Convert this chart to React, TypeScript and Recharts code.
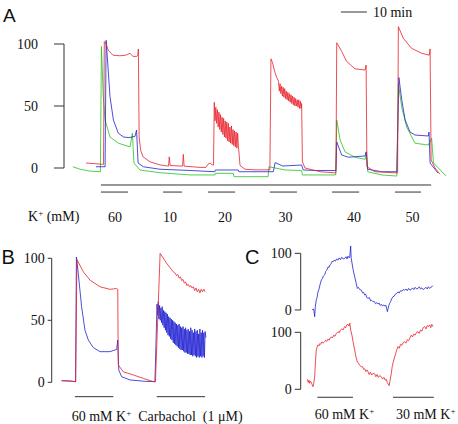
import React from 'react'
import { LineChart, Line, XAxis, YAxis, ReferenceLine } from 'recharts'

type Pt = [number, number]

const SERIF = '"Liberation Serif", "Times New Roman", serif'
const SANS = '"Liberation Sans", Arial, sans-serif'

const RED = '#e8202a'
const BLUE = '#2020d2'
const GREEN = '#22c422'
const INK = '#333'

// Panel A: normalised response (%), time in min
const RED_A: Pt[] = [
  [8.5, 4], [11.9, 3.5], [14.5, 3], [15.2, 3], [15.5, 102], [16.2, 100], [17.0, 95], [18.8, 91], [21.5, 90.5],
  [23.8, 91], [25.4, 92.5], [26.5, 90], [28.0, 90], [28.4, 91], [28.6, 96], [28.9, 25], [29.5, 14], [30.4, 9],
  [33.1, 5], [36.9, 2.5], [40.2, 1.5], [40.5, 9], [40.8, 2], [45.6, 1.5], [45.9, 11], [46.2, 1.5], [52.3, 0.5],
  [54.6, 0.5], [55.4, 3], [56.2, 4], [56.9, 2.5], [57.5, 2.5], [57.8, 53],
  [58.1, 38], [58.4, 49], [58.7, 36], [59.0, 47], [59.3, 33], [59.6, 45], [59.9, 31], [60.2, 43], [60.5, 29],
  [60.8, 41], [61.1, 27], [61.4, 40], [61.7, 25], [62.0, 38], [62.3, 24], [62.6, 37], [62.9, 22], [63.2, 36],
  [63.5, 21], [63.8, 33], [64.1, 20], [64.4, 34], [64.7, 19], [65.0, 31], [65.3, 18], [65.6, 30], [65.9, 17],
  [66.2, 29], [66.5, 16], [66.8, 28], [67.1, 17], [67.4, 10], [67.7, 2], [69.6, -1], [73.5, -1.5], [79.2, -1.5],
  [79.6, 88], [80.2, 85], [81.0, 78], [81.8, 73], [82.5, 70],
  [82.8, 62], [83.1, 68], [83.4, 60], [83.7, 66], [84.0, 58], [84.3, 65], [84.6, 57], [84.9, 64], [85.2, 56],
  [85.5, 62], [85.8, 55], [86.1, 61], [86.4, 54], [86.7, 60], [87.0, 53], [87.3, 59], [87.6, 52], [87.9, 58],
  [88.2, 51], [88.5, 57], [88.8, 50], [89.1, 56], [89.4, 50], [89.7, 55], [90.0, 49], [90.3, 55], [90.6, 48],
  [90.9, 54], [91.2, 48], [91.4, 52], [91.7, 5], [92.7, 0], [98.5, -3], [104.6, -4],
  [104.9, 101], [106.8, 94], [108.7, 86], [111.9, 80], [115.8, 79], [116.2, 83], [116.5, 1], [119.6, -3],
  [128.3, -4], [128.6, 114], [130.5, 104.6], [133.7, 96.5], [137.6, 92.5], [140.5, 91], [140.8, 96],
  [141.2, 6.5], [142.7, 0], [144.6, -5],
]

const BLUE_A: Pt[] = [
  [12.3, 1], [15.8, 1], [16.2, 103], [17.0, 79], [17.7, 57.5], [19.0, 38.7], [20.9, 28], [22.9, 25], [25.0, 24.5],
  [27.3, 25.5], [27.9, 30.6], [28.5, 4], [30.5, 1], [36.9, -1], [48.5, -2], [58.0, -3], [58.2, -1.6], [67.0, -1.6],
  [67.3, -3], [80.5, -3], [81.2, 4.3], [84.2, 1.6], [91.4, 2.4], [92.0, -1.6], [96.5, -2], [104.6, -2],
  [104.9, 21], [106.8, 10.5], [109.3, 8.7], [115.8, 9.7], [116.2, 13], [116.8, -1], [122.2, -3], [128.0, -3],
  [128.8, 73], [129.9, 55], [131.2, 38.7], [133.1, 29], [135.0, 26.6], [140.1, 25.8], [140.4, 29], [140.8, 4],
  [143.8, -4],
]

const GREEN_A: Pt[] = [
  [3.4, 1], [6.2, -1], [10.0, -2.5], [14.0, -3], [14.4, 98], [15.1, 57.5], [15.8, 38.7], [17.7, 25], [20.9, 20],
  [25.4, 17], [26.3, 28], [26.9, 4], [29.2, -1.6], [36.9, -3.8], [48.5, -5.6], [58.1, -5.6], [58.2, -4.3],
  [65.1, -4.3], [65.4, -7], [78.5, -7], [78.8, 1], [85.0, -1.6], [91.4, -2], [91.7, -5.6], [104.5, -5.6],
  [104.9, 38.7], [106.2, 22.6], [108.1, 13], [112.0, 8.6], [115.8, 7], [116.4, 13], [116.8, -3], [122.2, -5.6],
  [128.0, -6.5], [128.6, 68], [129.9, 49], [131.8, 33], [135.0, 20], [140.1, 18.5], [141.4, 24], [142.1, 4],
  [147.0, -6.5],
]

const K_CONC = ['60', '10', '20', '30', '40', '50']
const K_ON = [14.2, 38.1, 55.4, 79.2, 103.1, 127.3]
const K_OFF = [24.6, 45.4, 65.8, 89.6, 113.5, 137.3]
const K_LABEL_AT = [19.6, 40.8, 61.9, 85.2, 111.5, 134.0]

// Panel B
const BLUE_B: Pt[] = [
  [3.8, 1.3], [7.0, 1], [9.2, 0.5], [9.5, 101], [10.2, 88], [11.5, 61], [12.8, 42], [14.1, 34], [16.0, 28],
  [18.6, 24.7], [22.4, 24.7], [25.0, 26.6], [25.4, 34], [25.8, 9.9], [26.9, 4.5], [30.1, 1.9], [35.9, 0.8],
  [39.7, 0.5], [40.1, 30],
  [40.5, 63], [40.75, 54], [41.0, 65], [41.25, 51], [41.5, 62], [41.75, 50], [42.0, 60], [42.25, 48], [42.5, 61],
  [42.75, 46], [43.0, 58], [43.25, 44], [43.5, 57], [43.75, 42], [44.0, 56], [44.25, 40], [44.5, 55], [44.75, 38],
  [45.0, 53], [45.25, 37], [45.5, 52], [45.75, 35], [46.0, 51], [46.25, 34], [46.5, 50], [46.75, 32], [47.0, 49],
  [47.25, 31], [47.5, 48], [47.75, 30], [48.0, 47], [48.25, 29], [48.5, 46], [48.75, 28], [49.0, 47], [49.25, 27],
  [49.5, 45], [49.75, 26], [50.0, 44], [50.25, 26], [50.5, 45], [50.75, 25], [51.0, 43], [51.25, 24], [51.5, 44],
  [51.75, 24], [52.0, 42], [52.25, 23], [52.5, 43], [52.75, 23], [53.0, 41], [53.25, 22], [53.5, 44], [53.75, 22],
  [54.0, 42], [54.25, 21], [54.5, 40], [54.75, 22], [55.0, 43], [55.25, 21], [55.5, 41], [55.75, 20], [56.0, 42],
  [56.25, 21], [56.5, 39], [56.75, 20], [57.0, 43], [57.25, 21], [57.5, 40], [57.75, 20], [58.0, 42], [58.25, 21],
  [58.5, 40], [58.75, 20], [59.0, 41], [59.3, 36],
]

const RED_B: Pt[] = [
  [3.8, 1.3], [7.0, 1], [9.2, 0.5], [9.7, 99], [12.2, 89], [14.7, 82.5], [18.6, 77], [22.4, 75], [25.0, 75.6],
  [25.4, 75], [25.6, 14], [27.5, 8.5], [31.4, 5.9], [35.2, 3.2], [39.1, 0.5], [39.9, 0.5], [41.7, 104],
  [44.2, 96], [46.8, 89], [47.5, 88], [48.0, 86], [48.5, 87], [49.0, 84], [49.5, 85], [50.0, 82], [50.5, 83],
  [51.0, 80], [51.5, 81], [52.0, 78], [52.5, 79], [53.0, 77], [53.5, 78], [54.0, 76], [54.5, 77], [55.0, 74],
  [55.5, 76], [56.0, 73], [56.5, 75], [57.0, 72], [57.5, 75], [58.0, 73], [58.5, 75], [59.0, 73],
]

const B_ON = [8.9, 40.4]
const B_OFF = [23.7, 59.0]
const B_LABEL_AT = [7.7, 33.3]
const B_LABELS = ['60 mM K', 'Carbachol\u00a0\u00a0(1 \u03bcM)']
const B_SUPS = ['+', '']

// Panel C
const BLUE_C: Pt[] = [
  [4.47, 0], [4.8, 2], [5.12, -2], [5.37, -12], [5.6, 5], [6.01, 18], [6.3, 22], [6.65, 32], [7.0, 36], [7.4, 44],
  [7.94, 53], [8.3, 55], [8.7, 60], [9.22, 62], [9.6, 68], [10.0, 70], [10.5, 76], [10.9, 75], [11.3, 80],
  [11.78, 82], [12.1, 86], [12.42, 85], [12.9, 88], [13.3, 86], [13.8, 90], [14.35, 88], [14.8, 92], [15.3, 89],
  [15.8, 93], [16.3, 90], [16.91, 91], [17.4, 94], [17.8, 90], [18.19, 95], [18.6, 92], [18.83, 93], [19.0, 100],
  [19.22, 113], [19.4, 92], [19.73, 83], [20.2, 70], [20.76, 59], [21.3, 48], [21.78, 38], [22.2, 40], [22.7, 36],
  [23.32, 35], [23.8, 30], [24.2, 31], [24.6, 26.5], [25.0, 28], [25.4, 22], [25.88, 20.6], [26.4, 22], [26.9, 16],
  [27.3, 17], [27.8, 14.7], [28.3, 15], [28.8, 11], [29.3, 13], [29.73, 10.6], [30.2, 12], [30.6, 8], [31.0, 10],
  [31.5, 7], [32.0, 9], [32.3, 7], [32.8, 8], [33.1, 2], [33.32, -3], [33.6, 2], [33.9, 8], [34.22, 11.8],
  [34.6, 15], [35.0, 20], [35.5, 23.5], [35.9, 24], [36.4, 28], [36.9, 29], [37.42, 32], [37.9, 30], [38.4, 34],
  [38.9, 33], [39.4, 36], [39.99, 35], [40.5, 37], [41.0, 34], [41.5, 38], [42.0, 35], [42.55, 36.5], [43.0, 39],
  [43.5, 36], [44.0, 40], [44.6, 37], [45.12, 38], [45.6, 41], [46.1, 37], [46.6, 39], [47.1, 36], [47.68, 38],
  [48.2, 40], [48.7, 37], [49.1, 41], [49.6, 38], [50.0, 40], [50.5, 41], [50.88, 43],
]

const RED_C: Pt[] = [
  [2.55, 17.5], [2.9, 12], [3.2, 16], [3.45, 10.5], [3.8, 14], [4.09, 12], [4.4, 8], [4.73, 4.6], [5.0, 10],
  [5.37, 22], [5.7, 50], [6.01, 69], [6.3, 74], [6.65, 78], [7.0, 76], [7.3, 80], [7.7, 79], [8.1, 83], [8.6, 81],
  [9.22, 83.5], [9.6, 86], [10.0, 84], [10.5, 88], [10.9, 86], [11.3, 90], [11.78, 92], [12.2, 90], [12.7, 95],
  [13.2, 93], [13.7, 98], [14.35, 101], [14.8, 99], [15.3, 104], [15.8, 106], [16.3, 104], [16.91, 110],
  [17.3, 108], [17.7, 113], [18.19, 114], [18.6, 111], [18.9, 116], [19.22, 104], [19.7, 95], [20.2, 82],
  [20.76, 69], [21.2, 58], [21.78, 48], [22.2, 46], [22.7, 42], [23.32, 39.6], [23.8, 40], [24.2, 35], [24.6, 36],
  [25.1, 31], [25.5, 34], [25.88, 31], [26.3, 26], [26.8, 30], [27.3, 25], [27.8, 28], [28.45, 27], [28.9, 22],
  [29.4, 26], [29.9, 21], [30.4, 24], [31.01, 22], [31.5, 18], [32.0, 21], [32.5, 16], [32.93, 17.5], [33.3, 12],
  [33.7, 9], [34.0, 6.4], [34.3, 14], [34.86, 28], [35.2, 40], [35.6, 48], [36.14, 57], [36.5, 62], [37.0, 70],
  [37.42, 75], [37.9, 72], [38.4, 79], [38.9, 77], [39.4, 82], [39.99, 83.5], [40.5, 81], [41.0, 87], [41.5, 85],
  [42.0, 90], [42.55, 95], [43.0, 92], [43.5, 97], [44.0, 95], [44.6, 100], [45.12, 101], [45.6, 98], [46.1, 104],
  [46.6, 102], [47.1, 108], [47.68, 110], [48.2, 106], [48.7, 112], [49.1, 110], [49.6, 113], [50.0, 108],
  [50.4, 114], [50.88, 110],
]

const C_ON = [6.4, 35.5]
const C_OFF = [20.1, 51.2]
const C_LABEL_AT = [5.4, 36.65]
const C_LABELS = ['60 mM K', '30 mM K']
const C_SUPS = ['+', '+']

const rows = (pts: Pt[]) => pts.map(([t, v]) => ({ t, v }))

const tickFont = { fontSize: 14, fill: '#111', fontFamily: SERIF }

function LabelTick({ x, y, payload, at, labels, sups, dy, anchor }: any) {
  const i = at.indexOf(payload.value)
  if (i < 0) return null
  return (
    <text x={x} y={y + dy} textAnchor={anchor} style={{ fontFamily: SERIF }} fontSize={14} fill="#111">
      {labels[i]}
      {sups[i] ? <tspan dy={-5} fontSize={9}>{sups[i]}</tspan> : null}
    </text>
  )
}

function trace(pts: Pt[], color: string, key: string) {
  return (
    <Line
      key={key}
      data={rows(pts)}
      dataKey="v"
      type="linear"
      stroke={color}
      strokeWidth={0.8}
      dot={false}
      activeDot={false}
      isAnimationActive={false}
    />
  )
}

function bars(on: number[], off: number[], y: number) {
  return on.map((s, i) => (
    <ReferenceLine
      key={`bar-${i}`}
      segment={[{ x: s, y }, { x: off[i], y }]}
      stroke={INK}
      strokeWidth={1}
      ifOverflow="visible"
    />
  ))
}

function axisBar(top: number) {
  return <ReferenceLine segment={[{ x: 0, y: 0 }, { x: 0, y: top }]} stroke={INK} strokeWidth={1} ifOverflow="visible" />
}

export default function App() {
  return (
    <div style={{ position: 'absolute', left: 0, top: 0, width: 458, height: 424, background: '#fff', overflow: 'hidden', fontFamily: SERIF }}>
      {/* A */}
      <div style={{ position: 'absolute', left: 0, top: 0 }}>
        <LineChart width={458} height={235} margin={{ top: 6.8, right: 11.8, bottom: 2.2, left: 4 }}>
          <XAxis
            dataKey="t"
            type="number"
            domain={[0, 147]}
            allowDataOverflow
            ticks={K_LABEL_AT}
            interval={0}
            height={40}
            axisLine={false}
            tickLine={false}
            tickSize={0}
            tickMargin={0}
            tick={(p: any) => <LabelTick {...p} at={K_LABEL_AT} labels={K_CONC} sups={['', '', '', '', '', '']} dy={29} anchor="middle" />}
          />
          <YAxis
            type="number"
            domain={[-20, 130]}
            allowDataOverflow
            ticks={[0, 50, 100]}
            interval={0}
            width={60}
            axisLine={false}
            tickLine={{ stroke: INK }}
            tickSize={10}
            tickMargin={16}
            tick={tickFont}
          />
          {axisBar(100)}
          <ReferenceLine segment={[{ x: 14.2, y: -13.7 }, { x: 141.2, y: -13.7 }]} stroke={INK} strokeWidth={1} ifOverflow="visible" />
          {bars(K_ON, K_OFF, -19.4)}
          <ReferenceLine
            segment={[{ x: 106.5, y: 125.8 }, { x: 116.5, y: 125.8 }]}
            stroke={INK}
            strokeWidth={1}
            ifOverflow="visible"
            label={{ value: '10 min', position: 'right', offset: 6, fill: '#111', fontSize: 14, fontFamily: SERIF }}
          />
          {trace(GREEN_A, GREEN, 'ga')}
          {trace(BLUE_A, BLUE, 'ba')}
          {trace(RED_A, RED, 'ra')}
        </LineChart>
      </div>

      {/* B */}
      <div style={{ position: 'absolute', left: 0, top: 240 }}>
        <LineChart width={258} height={185} margin={{ top: 5.9, right: 45.1, bottom: 2.9, left: 6.7 }}>
          <XAxis
            dataKey="t"
            type="number"
            domain={[0, 62]}
            allowDataOverflow
            ticks={B_LABEL_AT}
            interval={0}
            height={15}
            axisLine={false}
            tickLine={false}
            tickSize={0}
            tickMargin={0}
            tick={(p: any) => <LabelTick {...p} at={B_LABEL_AT} labels={B_LABELS} sups={B_SUPS} dy={14} anchor="start" />}
          />
          <YAxis
            type="number"
            domain={[-20, 110]}
            allowDataOverflow
            ticks={[0, 50, 100]}
            interval={0}
            width={45}
            axisLine={false}
            tickLine={{ stroke: INK }}
            tickSize={4}
            tickMargin={3}
            tick={tickFont}
          />
          {axisBar(100)}
          {bars(B_ON, B_OFF, -11.6)}
          {trace(BLUE_B, BLUE, 'bb')}
          {trace(RED_B, RED, 'rb')}
        </LineChart>
      </div>

      {/* C top */}
      <div style={{ position: 'absolute', left: 240, top: 240 }}>
        <LineChart width={218} height={85} margin={{ top: 2, right: 9.1, bottom: 3.7, left: 10.7 }}>
          <XAxis dataKey="t" type="number" domain={[0, 57]} allowDataOverflow hide />
          <YAxis
            type="number"
            domain={[-20, 120]}
            allowDataOverflow
            ticks={[0, 100]}
            interval={0}
            width={50}
            axisLine={false}
            tickLine={{ stroke: INK }}
            tickSize={6}
            tickMargin={3}
            tick={tickFont}
          />
          {axisBar(100)}
          {trace(BLUE_C, BLUE, 'bc')}
        </LineChart>
      </div>

      {/* C bottom */}
      <div style={{ position: 'absolute', left: 240, top: 316 }}>
        <LineChart width={218} height={108} margin={{ top: 2.05, right: 9.1, bottom: 3.3, left: 10.7 }}>
          <XAxis
            dataKey="t"
            type="number"
            domain={[0, 57]}
            allowDataOverflow
            ticks={C_LABEL_AT}
            interval={0}
            height={20}
            axisLine={false}
            tickLine={false}
            tickSize={0}
            tickMargin={0}
            tick={(p: any) => <LabelTick {...p} at={C_LABEL_AT} labels={C_LABELS} sups={C_SUPS} dy={18.5} anchor="start" />}
          />
          <YAxis
            type="number"
            domain={[-20, 125]}
            allowDataOverflow
            ticks={[0, 100]}
            interval={0}
            width={50}
            axisLine={false}
            tickLine={{ stroke: INK }}
            tickSize={6}
            tickMargin={3}
            tick={tickFont}
          />
          {axisBar(100)}
          {bars(C_ON, C_OFF, -14)}
          {trace(RED_C, RED, 'rc')}
        </LineChart>
      </div>

      <svg width={458} height={424} style={{ position: 'absolute', left: 0, top: 0, pointerEvents: 'none' }}>
        <text x={3} y={21.7} style={{ fontFamily: SANS }} fontSize={19} fill="#111">A</text>
        <text x={1.5} y={263.5} style={{ fontFamily: SANS }} fontSize={20} fill="#111">B</text>
        <text x={245} y={263.5} style={{ fontFamily: SANS }} fontSize={20} fill="#111">C</text>
        <text x={28} y={221} style={{ fontFamily: SERIF }} fontSize={14} fill="#111">
          K<tspan dy={-5} fontSize={9}>+</tspan><tspan dy={5}> (mM)</tspan>
        </text>
      </svg>
    </div>
  )
}
